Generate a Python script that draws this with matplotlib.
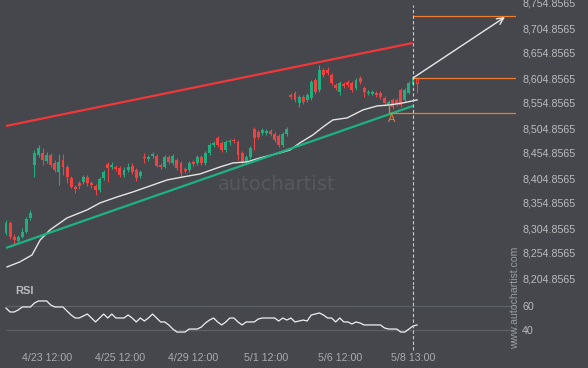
import numpy as np
import matplotlib
matplotlib.use("Agg")
import matplotlib.pyplot as plt

# candle data (one value per bar)
opens = [8295, 8315, 8287, 8279, 8287, 8297, 8325, 8431, 8451, 8455,
         8439, 8451, 8435, 8417, 8441, 8427, 8405, 8387, 8395, 8397,
         8407, 8395, 8389, 8381, 8405, 8433, 8427, 8427, 8425, 8411,
         8421, 8429, 8421, 8409, 8447, 8443, 8449, 8449, 8431, 8427,
         8447, 8435, 8441, 8435, 8423, 8421, 8437, 8435, 8447, 8435,
         8455, 8471, 8485, 8475, 8461, 8477, 8481, 8477, 8455, 8437,
         8447, 8503, 8497, 8495, 8495, 8499, 8493, 8489, 8471, 8493,
         8571, 8575, 8555, 8567, 8561, 8565, 8601, 8581, 8621, 8621,
         8611, 8591, 8577, 8593, 8597, 8595, 8585, 8605, 8585, 8575,
         8573, 8575, 8575, 8565, 8551, 8561, 8561, 8581, 8561, 8575,
         8591, 8605]
closes = [8315, 8287, 8281, 8287, 8297, 8323, 8335, 8455, 8465, 8441,
          8451, 8431, 8421, 8437, 8427, 8407, 8387, 8383, 8389, 8407,
          8395, 8391, 8381, 8403, 8417, 8425, 8431, 8423, 8411, 8421,
          8427, 8417, 8405, 8417, 8445, 8447, 8453, 8429, 8427, 8447,
          8437, 8449, 8425, 8415, 8419, 8435, 8433, 8447, 8435, 8455,
          8471, 8475, 8471, 8461, 8477, 8479, 8479, 8451, 8437, 8447,
          8465, 8485, 8487, 8501, 8499, 8493, 8481, 8471, 8493, 8503,
          8567, 8561, 8567, 8557, 8571, 8597, 8577, 8621, 8611, 8615,
          8595, 8585, 8595, 8589, 8591, 8581, 8601, 8597, 8577, 8577,
          8577, 8571, 8567, 8555, 8557, 8547, 8553, 8551, 8581, 8595,
          8605, 8595]
highs = [8321, 8319, 8293, 8291, 8305, 8327, 8341, 8461, 8471, 8465,
         8457, 8455, 8441, 8453, 8453, 8431, 8409, 8391, 8399, 8411,
         8411, 8399, 8393, 8407, 8421, 8437, 8437, 8431, 8429, 8427,
         8435, 8435, 8425, 8421, 8455, 8451, 8457, 8453, 8435, 8451,
         8451, 8453, 8445, 8439, 8427, 8439, 8441, 8451, 8451, 8459,
         8475, 8479, 8489, 8479, 8481, 8483, 8485, 8481, 8459, 8451,
         8469, 8507, 8501, 8505, 8503, 8503, 8497, 8493, 8497, 8507,
         8575, 8579, 8571, 8571, 8575, 8601, 8605, 8631, 8625, 8627,
         8615, 8595, 8599, 8597, 8601, 8599, 8605, 8609, 8589, 8581,
         8581, 8579, 8579, 8569, 8561, 8565, 8565, 8585, 8585, 8599,
         8609, 8607]
lows = [8291, 8283, 8273, 8275, 8285, 8295, 8321, 8407, 8447, 8431,
        8435, 8427, 8417, 8391, 8411, 8395, 8385, 8375, 8383, 8393,
        8389, 8385, 8371, 8377, 8401, 8397, 8423, 8419, 8407, 8407,
        8417, 8413, 8399, 8405, 8435, 8439, 8445, 8427, 8423, 8425,
        8433, 8431, 8421, 8407, 8415, 8417, 8429, 8431, 8431, 8431,
        8451, 8467, 8467, 8457, 8457, 8471, 8475, 8441, 8433, 8433,
        8443, 8461, 8483, 8491, 8491, 8489, 8477, 8467, 8467, 8489,
        8563, 8557, 8547, 8553, 8557, 8561, 8573, 8577, 8607, 8611,
        8591, 8581, 8571, 8585, 8587, 8577, 8581, 8593, 8567, 8571,
        8571, 8567, 8563, 8549, 8541, 8543, 8549, 8547, 8557, 8573,
        8589, 8575]

# white moving average, read at a few bar positions
ma_idx = [0.25, 3.4, 6.4, 8.4, 10.8, 15, 19.9, 23.1, 27.3, 31.2, 36.1, 39.6,
          43.5, 47.7, 52.6, 55.8, 59.2, 62.4, 67.3, 69.8, 72.2, 75.4, 77.9,
          80.3, 83.8, 87.7, 91.2, 94.3, 97.5, 101]
ma_vals = [8227, 8237, 8251, 8281, 8301, 8325, 8341, 8355, 8367, 8377, 8391,
           8401, 8407, 8413, 8427, 8435, 8437, 8445, 8455, 8461, 8475, 8491,
           8507, 8521, 8525, 8541, 8549, 8551, 8555, 8561]

rsi = [58.3, 55.0, 55.0, 56.7, 59.2, 59.2, 59.2, 62.5, 64.2, 64.2,
       64.2, 60.8, 59.2, 59.2, 59.2, 55.8, 52.5, 50.0, 50.0, 51.7,
       53.3, 50.0, 46.7, 50.0, 53.3, 50.0, 53.3, 50.0, 50.0, 50.0,
       52.5, 50.0, 46.7, 50.0, 47.5, 50.0, 53.3, 50.0, 46.7, 46.7,
       44.2, 40.8, 38.3, 38.3, 38.3, 40.8, 40.8, 40.8, 42.5, 45.8,
       48.3, 50.0, 46.7, 44.2, 46.7, 50.0, 50.0, 46.7, 44.2, 46.7,
       46.7, 46.7, 49.2, 50.0, 50.0, 50.0, 50.0, 47.5, 50.0, 48.3,
       50.0, 46.7, 47.5, 48.3, 47.5, 52.5, 53.3, 54.2, 52.5, 50.0,
       50.0, 46.7, 50.0, 46.7, 46.7, 45.0, 46.7, 45.8, 44.2, 44.2,
       44.2, 44.2, 44.2, 41.7, 40.8, 40.8, 40.8, 38.3, 38.3, 40.8,
       43.3, 44.2]

# channel (bar index -> price)
chan_x = [0, 100]
chan_upper = [8509, 8675]
chan_lower = [8265, 8549]

# pattern levels
now_idx = 100
point_a_idx = 94
target_level = 8728.8565
breakout_level = 8604.8565
support_level = 8534.8565
arrow_end_idx = 122.6

tick_pos = [10, 28, 46, 64, 82, 100]
tick_labels = ['4/23 12:00', '4/25 12:00', '4/29 12:00', '5/1 12:00',
               '5/6 12:00', '5/8 13:00']
price_ticks = [8204.8565 + 50 * k for k in range(12)]

BG = '#45474c'
UP = '#1fae7e'
DOWN = '#ef4343'
TXT = '#b9bbbe'
ORANGE = '#f07d2e'

plt.rcParams['font.family'] = ['Liberation Sans', 'DejaVu Sans']

W, H = 588, 368
fig = plt.figure(figsize=(W / 100, H / 100), dpi=100, facecolor=BG)
ax_right = 516
ax = fig.add_axes([0, 1 - 285 / H, ax_right / W, 285 / H])
ax2 = fig.add_axes([0, 1 - 345 / H, ax_right / W, 60 / H])

# pixel layout of bars: first bar at 6 px, 4.07 px per bar
x_lim = (-6 / 4.07, (ax_right - 6) / 4.07)

for a in (ax, ax2):
    a.set_facecolor(BG)
    for s in a.spines.values():
        s.set_visible(False)
    a.set_xlim(*x_lim)
    a.yaxis.tick_right()
    a.tick_params(axis='both', length=0, labelsize=7.7, labelcolor=TXT, pad=4.5)

ax.set_ylim(8190.8565, 8760.8565)
ax2.set_ylim(27.5, 77.5)

o = np.array(opens)
c = np.array(closes)
h = np.array(highs)
l = np.array(lows)
x = np.arange(len(o))
colors = np.where(c >= o, UP, DOWN)
colors[-1] = DOWN

ax.vlines(x, l, h, colors=colors, lw=0.8, zorder=2)
body_lo = np.minimum(o, c)
body_h = np.maximum(np.abs(c - o), 1.6)
ax.bar(x[:-1], body_h[:-1], bottom=body_lo[:-1], width=0.72,
       color=colors[:-1], zorder=3, linewidth=0)
ax.bar(x[-1], body_h[-1], bottom=body_lo[-1], width=0.62,
       facecolor=BG, edgecolor=DOWN, linewidth=0.8, zorder=3)

ax.plot(ma_idx, ma_vals, color='#e4e4e4', lw=1.0, zorder=4)
ax.plot(chan_x, chan_upper, color='#f0383a', lw=1.6, zorder=4,
        solid_capstyle='butt')
ax.plot(chan_x, chan_lower, color='#1db282', lw=1.6, zorder=4,
        solid_capstyle='butt')

# pattern levels and projection
ax.hlines([target_level, breakout_level], now_idx, x_lim[1], color=ORANGE,
          lw=0.9, zorder=5)
ax.hlines(support_level, point_a_idx, x_lim[1], color=ORANGE, lw=0.9, zorder=5)
ax.vlines(point_a_idx, support_level, body_lo[point_a_idx], color=ORANGE,
          lw=0.9, zorder=5)
ax.text(point_a_idx + 0.7, support_level - 13, 'A', color=ORANGE, fontsize=8,
        ha='center', va='center', zorder=6)
ax.annotate('', xy=(arrow_end_idx, target_level - 2),
            xytext=(now_idx, breakout_level),
            arrowprops=dict(arrowstyle='->', color='#e8e8e8', lw=1.0,
                            mutation_scale=12, shrinkA=0, shrinkB=0),
            zorder=6)

ax.axvline(now_idx, ymax=1 - 5 / 285, color='#c9cacc', lw=0.8,
           ls=(0, (3, 2)), zorder=5)
ax2.axvline(now_idx, ymin=-5 / 60, color='#c9cacc', lw=0.8,
            ls=(0, (3, 2)), clip_on=False, zorder=5)

ax.set_yticks(price_ticks)
ax.set_yticklabels([f'{p:,.4f}' for p in price_ticks])
ax.set_xticks([])

ax.text(277 / ax_right, 1 - 185 / 285, 'autochartist', transform=ax.transAxes,
        ha='center', va='center', fontsize=14, color='#55585d', zorder=0,
        family='DejaVu Sans')

# RSI panel
for lvl in (40, 60):
    ax2.axhline(lvl, xmin=7 / ax_right, color='#5c5f64', lw=1.0, zorder=1)
ax2.plot(np.arange(len(rsi)), rsi, color='#f0f0f0', lw=0.9, zorder=3)
ax2.set_yticks([40, 60])
ax2.set_xticks(tick_pos)
ax2.set_xticklabels(tick_labels, color='#a9abaf')
ax2.tick_params(axis='x', pad=5.5)

fig.text(15 / W, 1 - 291 / H, 'RSI', fontsize=8, fontweight='bold',
         color=TXT, ha='left', va='center')
fig.text(515 / W, 1 - 298 / H, 'www.autochartist.com', rotation=90,
         fontsize=7.6, color='#9a9da2', ha='center', va='center')

fig.savefig('out.png', dpi=100, facecolor=BG)
